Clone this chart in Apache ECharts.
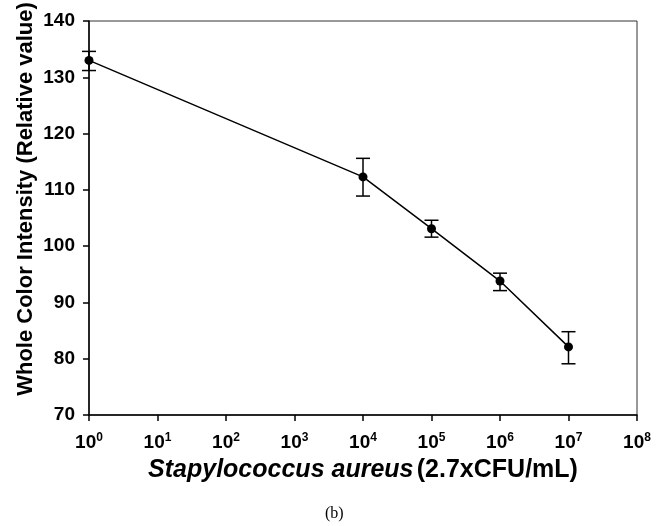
<!DOCTYPE html>
<html>
<head>
<meta charset="utf-8">
<script src="https://cdn.jsdelivr.net/npm/echarts@6/dist/echarts.min.js"></script>
<style>
  html, body { margin: 0; padding: 0; background: #fff; }
  #chart { width: 671px; height: 526px; }
</style>
</head>
<body>
<div id="chart"></div>
<script>
// concentration (CFU/mL, log axis) and measured intensity
const concentrations = [1, 1e4, 1e5, 1e6, 1e7];
const intensity = [133.0, 112.3, 103.1, 93.8, 82.1];
const errLow = [131.2, 108.9, 101.6, 92.1, 79.1];
const errHigh = [134.6, 115.6, 104.6, 95.2, 84.8];
const yTicks = [70, 80, 90, 100, 110, 120, 130, 140];

const chart = echarts.init(document.getElementById('chart'));

const lineData = concentrations.map((c, i) => [c, intensity[i]]);
const errData = concentrations.map((c, i) => [c, errLow[i], errHigh[i]]);

const font = 'Liberation Sans, Arial, sans-serif';

chart.setOption({
    animation: false,
    backgroundColor: '#ffffff',
    title: {
        text: '(b)',
        left: 320,
        top: 501,
        textStyle: { fontFamily: 'Liberation Serif, Times New Roman, serif', fontSize: 16, fontWeight: 'normal', color: '#000' }
    },
    // y title sits a bit above the middle of the axis in the original
    graphic: [{
        type: 'text',
        x: 26,
        y: 199,
        rotation: Math.PI / 2,
        style: {
            text: 'Whole Color Intensity (Relative value)',
            font: 'bold 22px Liberation Sans, Arial, sans-serif',
            fill: '#000',
            align: 'center',
            verticalAlign: 'middle'
        }
    }],
    grid: {
        left: 89, top: 21, right: 34, bottom: 111,
        show: true, borderColor: '#333', borderWidth: 1
    },
    xAxis: {
        type: 'log',
        logBase: 10,
        min: 1,
        max: 1e8,
        splitNumber: 8,
        name: '{it|Stapylococcus aureus} {b|(2.7xCFU/mL)}',
        nameLocation: 'middle',
        nameGap: 43,
        nameTextStyle: {
            rich: {
                it: { fontFamily: font, fontSize: 25, fontWeight: 'bold', fontStyle: 'italic', color: '#000' },
                b: { fontFamily: font, fontSize: 25, fontWeight: 'bold', color: '#000' }
            }
        },
        axisLine: { lineStyle: { color: '#000', width: 1.5 } },
        axisTick: { show: true, length: 6, lineStyle: { color: '#000', width: 1.5 } },
        splitLine: { show: false },
        minorTick: { show: false },
        axisLabel: {
            margin: 17,
            formatter: function (v) {
                const n = Math.round(Math.log10(v));
                return '{b|10}{s|' + n + '}';
            },
            rich: {
                b: { fontFamily: font, fontSize: 19, fontWeight: 'bold', color: '#000' },
                s: { fontFamily: font, fontSize: 12, fontWeight: 'bold', color: '#000', verticalAlign: 'top', padding: [0, 0, 9, 0] }
            }
        }
    },
    yAxis: {
        type: 'value',
        min: yTicks[0],
        max: yTicks[yTicks.length - 1],
        interval: 10,
        axisLine: { show: true, lineStyle: { color: '#000', width: 1.5 } },
        axisTick: { show: true, length: 6, lineStyle: { color: '#000', width: 1.5 } },
        splitLine: { show: false },
        axisLabel: { fontFamily: font, fontSize: 19, fontWeight: 'bold', color: '#000', margin: 14 }
    },
    series: [
        {
            type: 'line',
            data: lineData,
            symbol: 'circle',
            symbolSize: 9,
            itemStyle: { color: '#000' },
            lineStyle: { color: '#000', width: 1.5 },
            z: 3
        },
        {
            // error bars
            type: 'custom',
            data: errData,
            z: 2,
            renderItem: function (params, api) {
                const x = api.value(0);
                const lo = api.coord([x, api.value(1)]);
                const hi = api.coord([x, api.value(2)]);
                const w = 7;
                const style = { stroke: '#000', lineWidth: 1.5 };
                return {
                    type: 'group',
                    children: [
                        { type: 'line', shape: { x1: lo[0], y1: lo[1], x2: hi[0], y2: hi[1] }, style: style },
                        { type: 'line', shape: { x1: hi[0] - w, y1: hi[1], x2: hi[0] + w, y2: hi[1] }, style: style },
                        { type: 'line', shape: { x1: lo[0] - w, y1: lo[1], x2: lo[0] + w, y2: lo[1] }, style: style }
                    ]
                };
            }
        }
    ]
});
</script>
</body>
</html>
